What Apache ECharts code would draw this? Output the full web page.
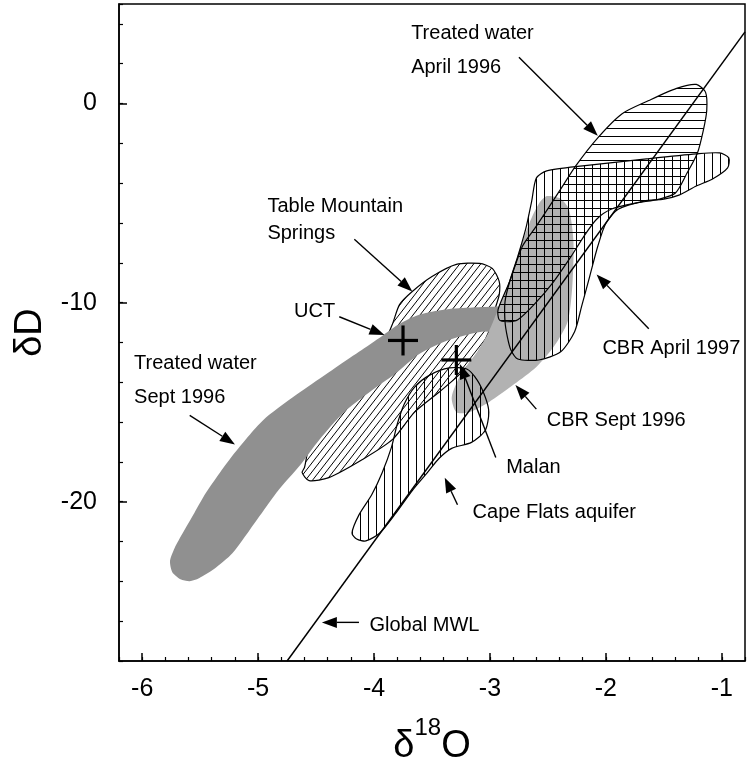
<!DOCTYPE html>
<html><head><meta charset="utf-8">
<script src="https://cdn.jsdelivr.net/npm/echarts@6/dist/echarts.min.js"></script>
<style>html,body{margin:0;padding:0;background:#fff}#c{width:752px;height:760px}</style>
</head><body><div id="c"></div>
<script>
// ---- data (delta 18O, delta D) ----
const treatedApril1996 = [[-2.92,-10.86],[-2.93,-10.35],[-2.83,-8.94],[-2.72,-7.17],[-2.60,-6.16],[-2.40,-4.39],[-2.26,-3.13],[-2.07,-1.72],[-1.86,-0.51],[-1.63,0.15],[-1.39,0.76],[-1.22,0.96],[-1.14,0.56],[-1.13,-0.35],[-1.16,-1.36],[-1.21,-2.48],[-1.30,-3.49],[-1.40,-4.49],[-1.54,-4.80],[-1.74,-5.00],[-1.95,-5.30],[-2.08,-5.81],[-2.19,-6.67],[-2.30,-7.68],[-2.45,-8.94],[-2.62,-10.10],[-2.76,-10.86],[-2.85,-10.96]];
const cbrApril1997 = [[-2.60,-3.74],[-2.64,-4.90],[-2.69,-6.26],[-2.76,-7.68],[-2.83,-8.94],[-2.87,-9.95],[-2.87,-10.96],[-2.85,-11.72],[-2.82,-12.37],[-2.76,-12.83],[-2.58,-12.88],[-2.39,-12.47],[-2.27,-11.46],[-2.21,-10.20],[-2.14,-8.69],[-2.07,-7.17],[-2.00,-6.01],[-1.89,-5.30],[-1.67,-4.90],[-1.50,-4.80],[-1.37,-4.60],[-1.22,-4.14],[-1.08,-3.79],[-0.95,-3.23],[-0.94,-2.73],[-1.02,-2.48],[-1.22,-2.53],[-1.65,-2.78],[-2.20,-3.13],[-2.51,-3.38]];
const tableMountainSprings = [[-4.62,-18.54],[-4.60,-18.28],[-4.56,-17.27],[-4.39,-15.76],[-4.13,-13.74],[-3.91,-11.97],[-3.84,-11.06],[-3.78,-10.10],[-3.67,-9.44],[-3.50,-8.69],[-3.29,-8.08],[-3.09,-8.03],[-2.98,-8.28],[-2.92,-8.94],[-2.92,-9.60],[-2.95,-10.20],[-3.01,-11.46],[-3.11,-12.58],[-3.26,-13.59],[-3.44,-14.50],[-3.65,-15.50],[-3.84,-16.87],[-4.10,-17.88],[-4.39,-18.79],[-4.56,-18.94]];
const treatedSept1996 = [[-5.76,-22.98],[-5.72,-22.32],[-5.65,-21.57],[-5.55,-20.56],[-5.45,-19.55],[-5.33,-18.54],[-5.20,-17.53],[-5.07,-16.62],[-4.93,-15.76],[-4.64,-14.50],[-4.36,-13.38],[-4.13,-12.47],[-3.93,-11.67],[-3.78,-11.06],[-3.61,-10.61],[-3.39,-10.35],[-3.15,-10.25],[-2.92,-10.20],[-2.75,-10.20],[-2.83,-11.46],[-3.07,-11.46],[-3.35,-11.87],[-3.61,-12.58],[-3.82,-13.59],[-4.04,-14.50],[-4.26,-15.50],[-4.47,-16.87],[-4.64,-18.18],[-4.82,-19.39],[-5.01,-20.91],[-5.22,-22.58],[-5.38,-23.38],[-5.51,-23.84],[-5.59,-23.99],[-5.67,-23.89],[-5.74,-23.54]];
const cbrSept1996 = [[-2.51,-4.65],[-2.40,-4.75],[-2.32,-5.30],[-2.28,-6.92],[-2.29,-9.19],[-2.33,-10.96],[-2.45,-12.22],[-2.60,-13.23],[-2.79,-14.09],[-3.01,-15.00],[-3.18,-15.50],[-3.29,-15.50],[-3.33,-14.75],[-3.25,-13.59],[-3.11,-12.47],[-3.01,-11.46],[-2.92,-10.20],[-2.83,-8.84],[-2.75,-7.42],[-2.66,-6.01],[-2.58,-5.05]];
const capeFlatsAquifer = [[-4.19,-21.57],[-4.13,-20.66],[-4.02,-19.65],[-3.93,-18.54],[-3.85,-17.27],[-3.80,-16.11],[-3.74,-15.10],[-3.65,-14.24],[-3.52,-13.64],[-3.35,-13.28],[-3.20,-13.33],[-3.11,-13.89],[-3.04,-14.75],[-3.01,-15.50],[-3.04,-16.41],[-3.16,-17.02],[-3.33,-17.32],[-3.44,-17.83],[-3.54,-18.54],[-3.67,-19.44],[-3.81,-20.56],[-3.95,-21.57],[-4.07,-21.97],[-4.15,-21.87]];
const globalMWL = [[-4.75,-28],[-0.8,3.6]];
const crossNames = ['UCT','Malan'];
const crossX = [-3.75,-3.29];
const crossY = [-11.9,-12.88];
const labelTexts = ['Treated water','April 1996','Table Mountain','Springs','UCT','Treated water','Sept 1996','CBR April 1997','CBR Sept 1996','Malan','Cape Flats aquifer','Global MWL'];
const labelX = [-3.68,-3.68,-4.92,-4.92,-4.69,-6.07,-6.07,-2.03,-2.51,-2.86,-3.15,-4.04];
const labelY = [3.54,1.82,-5.15,-6.52,-10.45,-13.08,-14.75,-12.32,-15.91,-18.28,-20.56,-26.21];
const arrowFrom = [[-2.75,2.32],[-4.17,-6.82],[-4.30,-10.71],[-5.59,-15.66],[-1.63,-11.31],[-2.60,-15.35],[-2.95,-17.78],[-3.28,-20.15],[-4.13,-26.06]];
const arrowTo = [[-2.07,-1.62],[-3.67,-9.44],[-3.91,-11.62],[-5.20,-17.12],[-2.08,-8.59],[-2.78,-14.14],[-3.26,-13.08],[-3.39,-18.79],[-4.45,-26.06]];
const xMajorTicks = [-6,-5,-4,-3,-2,-1];
const yMajorTicks = [-20,-10,0];

const FONT = 'Liberation Sans, Arial, Helvetica, sans-serif';

function makePattern(kind) {
  const c = document.createElement('canvas');
  const ctx = c.getContext('2d');
  ctx.strokeStyle = '#000';
  ctx.lineWidth = 1;
  if (kind === 'h') {
    c.width = 8; c.height = 8;
    ctx.beginPath(); ctx.moveTo(0, 0.5); ctx.lineTo(8, 0.5); ctx.stroke();
  } else if (kind === 'v') {
    c.width = 8; c.height = 8;
    ctx.beginPath(); ctx.moveTo(0.5, 0); ctx.lineTo(0.5, 8); ctx.stroke();
  } else {
    const w = 7, h = 9;
    c.width = w; c.height = h;
    ctx.beginPath();
    ctx.moveTo(0, h); ctx.lineTo(w, 0);
    ctx.moveTo(-w, h); ctx.lineTo(0, 0);
    ctx.moveTo(w, h); ctx.lineTo(2 * w, 0);
    ctx.stroke();
  }
  return { type: 'pattern', image: c, repeat: 'repeat' };
}

function polySeries(name, pts, fill, stroke, z) {
  return {
    type: 'custom', name: name, xAxisIndex: 0, yAxisIndex: 0, clip: true, z: z, silent: true,
    data: pts, encode: { x: 0, y: 1 },
    renderItem: function (params, api) {
      if (params.dataIndex !== 0) return null;
      const points = pts.map(function (p) { return api.coord(p); });
      return { type: 'polygon', shape: { points: points, smooth: 0.25 },
        style: { fill: fill, stroke: stroke || null, lineWidth: 1.2 } };
    }
  };
}

const chart = echarts.init(document.getElementById('c'), null, { renderer: 'canvas' });

const gridPos = { left: 119, right: 7, top: 4, bottom: 99, containLabel: false, outerBoundsMode: 'none' };

const option = {
  animation: false,
  backgroundColor: '#fff',
  grid: [
    Object.assign({ show: true, borderColor: '#000', borderWidth: 1.5, backgroundColor: 'transparent' }, gridPos),
    Object.assign({ show: false }, gridPos)
  ],
  xAxis: [
    { type: 'value', gridIndex: 0, min: -6.2, max: -0.8, interval: 0.2,
      axisLine: { show: true, onZero: false, lineStyle: { color: '#000', width: 1.5 } },
      axisTick: { show: true, inside: true, length: 4, lineStyle: { color: '#000', width: 1.2 } },
      axisLabel: { show: false }, splitLine: { show: false } },
    { type: 'value', gridIndex: 1, min: -6.2, max: -0.8,
      axisLine: { show: false, onZero: false },
      axisTick: { show: true, inside: true, length: 8, customValues: xMajorTicks, lineStyle: { color: '#000', width: 1.5 } },
      axisLabel: { show: true, customValues: xMajorTicks, fontSize: 25, color: '#000', fontFamily: FONT, margin: 16,
        formatter: function (v) { return String(Math.round(v)); } },
      splitLine: { show: false },
      name: '{a|δ}{b|18}{a|O}', nameLocation: 'middle', nameGap: 55,
      nameTextStyle: { color: '#000', fontFamily: FONT,
        rich: { a: { fontSize: 38, fontFamily: FONT, color: '#000', lineHeight: 50, verticalAlign: 'bottom' },
                b: { fontSize: 24, fontFamily: FONT, color: '#000', lineHeight: 24, verticalAlign: 'top' } } } }
  ],
  yAxis: [
    { type: 'value', gridIndex: 0, min: -28, max: 5, interval: 2,
      axisLine: { show: true, onZero: false, lineStyle: { color: '#000', width: 1.5 } },
      axisTick: { show: true, inside: true, length: 4, lineStyle: { color: '#000', width: 1.2 } },
      axisLabel: { show: false }, splitLine: { show: false } },
    { type: 'value', gridIndex: 1, min: -28, max: 5,
      axisLine: { show: false, onZero: false },
      axisTick: { show: true, inside: true, length: 8, customValues: yMajorTicks, lineStyle: { color: '#000', width: 1.5 } },
      axisLabel: { show: true, customValues: yMajorTicks, fontSize: 25, color: '#000', fontFamily: FONT, margin: 22,
        formatter: function (v) { return String(Math.round(v)); } },
      splitLine: { show: false },
      name: 'δD', nameLocation: 'middle', nameGap: 62,
      nameTextStyle: { fontSize: 38, color: '#000', fontFamily: FONT } }
  ],
  series: [
    polySeries('Table Mountain Springs', tableMountainSprings, makePattern('d'), '#000', 2),
    polySeries('Treated water Sept 1996', treatedSept1996, '#909090', null, 3),
    polySeries('CBR Sept 1996', cbrSept1996, '#b2b2b2', null, 3),
    polySeries('CBR April 1997', cbrApril1997, makePattern('v'), '#000', 4),
    polySeries('Treated water April 1996', treatedApril1996, makePattern('h'), '#000', 4),
    polySeries('Cape Flats aquifer', capeFlatsAquifer, makePattern('v'), '#000', 5),
    { type: 'line', name: 'Global MWL', xAxisIndex: 0, yAxisIndex: 0, data: globalMWL, symbol: 'none', z: 6,
      lineStyle: { color: '#000', width: 1.5 }, silent: true },
    { type: 'custom', name: 'sites', xAxisIndex: 0, yAxisIndex: 0, z: 7, silent: true,
      data: crossX.map(function (x, i) { return { name: crossNames[i], value: [x, crossY[i]] }; }),
      encode: { x: 0, y: 1 },
      renderItem: function (params, api) {
        const c = api.coord([api.value(0), api.value(1)]);
        const st = { stroke: '#000', lineWidth: 3.2 };
        return { type: 'group', children: [
          { type: 'line', shape: { x1: c[0] - 15, y1: c[1], x2: c[0] + 15, y2: c[1] }, style: st },
          { type: 'line', shape: { x1: c[0], y1: c[1] - 15, x2: c[0], y2: c[1] + 15 }, style: st } ] };
      } },
    { type: 'custom', name: 'arrows', xAxisIndex: 0, yAxisIndex: 0, z: 8, silent: true, clip: false,
      data: arrowFrom.map(function (f, i) { return [f[0], f[1], arrowTo[i][0], arrowTo[i][1]]; }),
      encode: { x: [0, 2], y: [1, 3] },
      renderItem: function (params, api) {
        const p1 = api.coord([api.value(0), api.value(1)]);
        const p2 = api.coord([api.value(2), api.value(3)]);
        const dx = p2[0] - p1[0], dy = p2[1] - p1[1];
        const len = Math.sqrt(dx * dx + dy * dy);
        const ux = dx / len, uy = dy / len;
        const hl = 15, hw = 5.5;
        const bx = p2[0] - ux * hl, by = p2[1] - uy * hl;
        return { type: 'group', children: [
          { type: 'line', shape: { x1: p1[0], y1: p1[1], x2: bx, y2: by }, style: { stroke: '#000', lineWidth: 1.4 } },
          { type: 'polygon', shape: { points: [[p2[0], p2[1]], [bx - uy * hw, by + ux * hw], [bx + uy * hw, by - ux * hw]] },
            style: { fill: '#000' } } ] };
      } },
    { type: 'custom', name: 'labels', xAxisIndex: 0, yAxisIndex: 0, z: 9, silent: true, clip: false,
      data: labelX.map(function (x, i) { return [x, labelY[i]]; }),
      encode: { x: 0, y: 1 },
      renderItem: function (params, api) {
        const c = api.coord([api.value(0), api.value(1)]);
        return { type: 'text', x: c[0], y: c[1],
          style: { text: labelTexts[params.dataIndex], fontSize: 20, fontFamily: FONT, fill: '#000',
            align: 'left', verticalAlign: 'middle' } };
      } }
  ]
};
chart.setOption(option);
</script>
</body></html>
